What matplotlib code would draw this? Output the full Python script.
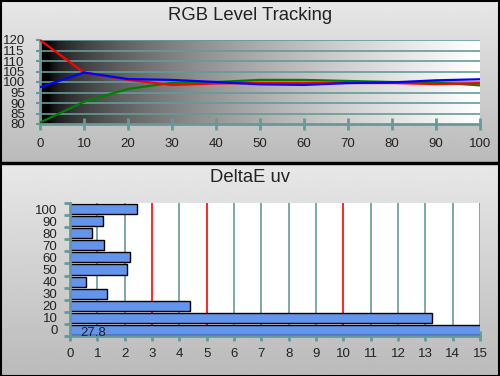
import numpy as np
import matplotlib
matplotlib.use('Agg')
import matplotlib.pyplot as plt
from matplotlib.patches import Rectangle

# Data
levels = [0, 10, 20, 30, 40, 50, 60, 70, 80, 90, 100]
red = [120, 104.5, 101, 98.6, 99.3, 99.5, 99.5, 99.5, 99.5, 99.0, 99.5]
green = [80.7, 90.6, 96.7, 99.6, 100.0, 101.0, 101.0, 100.5, 100.0, 99.8, 98.4]
blue = [97.5, 104.5, 101.4, 101.0, 100.0, 98.9, 98.6, 99.5, 99.8, 100.8, 101.3]

de_labels = ['0', '10', '20', '30', '40', '50', '60', '70', '80', '90', '100']
de_values = [27.8, 13.26, 4.38, 1.37, 0.60, 2.10, 2.21, 1.26, 0.79, 1.22, 2.44]

teal = '#669a9a'
txt = '#222222'
plt.rcParams['font.family'] = ['Liberation Sans', 'DejaVu Sans']

fig = plt.figure(figsize=(5, 3.76), dpi=100)

# panel backgrounds (vertical gray gradient), separator 163 px from the top
sep = 1 - 163 / 376
grad = np.linspace(0.91, 0.73, 256).reshape(-1, 1)
for y0, h in [(sep, 1 - sep), (0, sep)]:
    bg = fig.add_axes([0, y0, 1, h], zorder=-10)
    bg.imshow(grad, cmap='gray', vmin=0, vmax=1, aspect='auto', extent=[0, 1, 0, 1])
    bg.axis('off')

fig.patches.append(Rectangle((0, sep - 0.002), 1, 0.004, transform=fig.transFigure, color='black', zorder=5))
fig.patches.append(Rectangle((0.001, 0.001), 0.997, 0.997, transform=fig.transFigure,
                             fill=False, edgecolor='black', linewidth=1.5, zorder=5))

# RGB Level Tracking
ax1 = fig.add_axes([40 / 500, 252 / 376, 440 / 500, 84 / 376])
xg = np.clip((np.linspace(0, 1, 512) - 0.02) / 0.98, 0, 1) ** 0.55
ax1.imshow(xg.reshape(1, -1), cmap='gray', vmin=0, vmax=1, aspect='auto',
           extent=[0, 100, 80, 120], zorder=0)
for yv in range(85, 121, 5):
    ax1.axhline(yv, color=teal, linewidth=1.2, zorder=1)
ax1.plot(levels, green, color='#008000', linewidth=1.6, zorder=3)
ax1.plot(levels, red, color='#ff0000', linewidth=1.6, zorder=3)
ax1.plot(levels, blue, color='#0000ff', linewidth=1.6, zorder=3)
ax1.set_xlim(0, 100)
ax1.set_ylim(80, 120)
ax1.set_xticks(levels)
ax1.set_yticks(range(80, 121, 5))
for s in ['top', 'right']:
    ax1.spines[s].set_visible(False)
for s in ['left', 'bottom']:
    ax1.spines[s].set_color(teal)
    ax1.spines[s].set_linewidth(2)
ax1.tick_params(axis='x', colors=teal, direction='inout', length=8, width=2,
                labelcolor=txt, labelsize=9.5, pad=6)
ax1.tick_params(axis='y', colors=teal, direction='out', length=3, width=1.5,
                labelcolor=txt, labelsize=9.5, pad=8)
fig.text(0.5, 1 - 15 / 376, 'RGB Level Tracking', ha='center', va='center',
         fontsize=13.3, color=txt)

# DeltaE uv
ax2 = fig.add_axes([70 / 500, 40 / 376, 410 / 500, 133 / 376])
ax2.set_facecolor('white')
pos = np.arange(len(de_labels))
for xv in range(1, 16):
    c = '#ff0000' if xv in (3, 5, 10) else teal
    ax2.axvline(xv, color=c, linewidth=1.2, zorder=1)
ax2.barh(pos, de_values, height=0.84, color='#6495ED', edgecolor='black',
         linewidth=1, zorder=2)
ax2.text(0.85, -0.25, '27.8', ha='center', va='center', fontsize=9.5, color=txt, zorder=4)
ax2.set_xlim(0, 15)
ax2.set_ylim(-0.5, 10.5)
ax2.set_xticks(range(16))
ax2.set_yticks(pos)
ax2.set_yticklabels(de_labels)
ax2.set_yticks(np.arange(-0.5, 11, 1), minor=True)
for s in ['top', 'right']:
    ax2.spines[s].set_visible(False)
for s in ['left', 'bottom']:
    ax2.spines[s].set_color(teal)
    ax2.spines[s].set_linewidth(2)
ax2.tick_params(axis='x', colors=teal, direction='inout', length=7, width=2,
                labelcolor=txt, labelsize=9.5, pad=5)
ax2.tick_params(axis='y', which='major', length=0, labelcolor=txt, labelsize=9.5, pad=9)
ax2.tick_params(axis='y', which='minor', colors=teal, direction='out', length=4, width=2)
fig.text(0.5, 1 - 177 / 376, 'DeltaE uv', ha='center', va='center',
         fontsize=13.3, color=txt)

fig.savefig('out.png', dpi=100)
